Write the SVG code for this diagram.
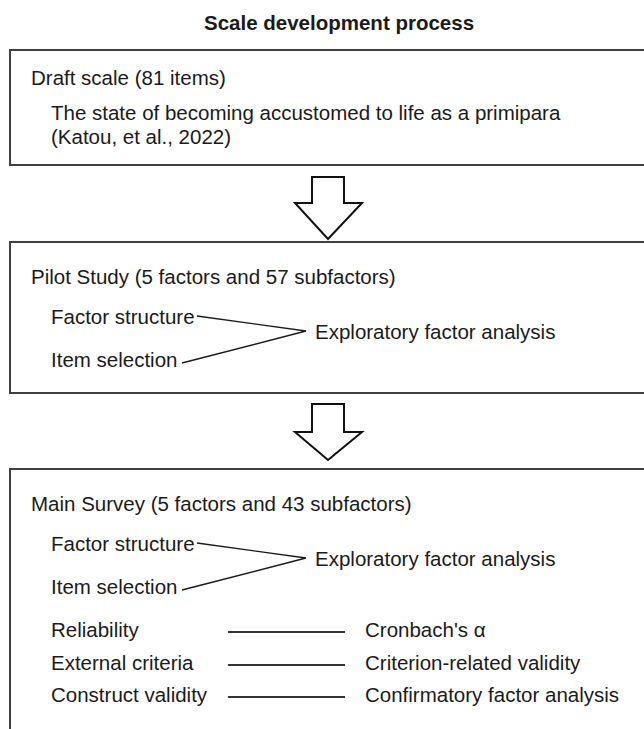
<svg xmlns="http://www.w3.org/2000/svg" width="644" height="729" viewBox="0 0 644 729">
<style>
  text { font-family: "Liberation Sans", Arial, sans-serif; font-size: 20.5px; fill: #1a1a1a; }
  .title { font-weight: bold; }
  .box { fill: #ffffff; stroke: #404040; stroke-width: 2; }
  .arrow { fill: #ffffff; stroke: #111111; stroke-width: 2; stroke-linejoin: miter; }
  .link { fill: none; stroke: #1a1a1a; stroke-width: 1.4; }
  .row { fill: none; stroke: #333333; stroke-width: 2; }
</style>
<rect x="0" y="0" width="644" height="729" fill="#ffffff"/>
<text class="title" x="204" y="30">Scale development process</text>

<g id="draft">
  <rect class="box" x="10" y="50" width="700" height="115"/>
  <text x="31" y="85">Draft scale (81 items)</text>
  <text x="51" y="120">The state of becoming accustomed to life as a primipara</text>
  <text x="51" y="144">(Katou, et al., 2022)</text>
</g>

<g id="pilot">
  <rect class="box" x="10" y="242" width="700" height="151"/>
  <text x="31" y="284">Pilot Study (5 factors and 57 subfactors)</text>
  <text x="51" y="324">Factor structure</text>
  <text x="51" y="367">Item selection</text>
  <text x="315" y="339">Exploratory factor analysis</text>
</g>

<g id="main">
  <rect class="box" x="10" y="469" width="700" height="340"/>
  <text x="31" y="511">Main Survey (5 factors and 43 subfactors)</text>
  <text x="51" y="551">Factor structure</text>
  <text x="51" y="594">Item selection</text>
  <text x="315" y="566">Exploratory factor analysis</text>
  <text x="51" y="637">Reliability</text>
  <text x="51" y="670">External criteria</text>
  <text x="51" y="702">Construct validity</text>
  <text x="365" y="637">Cronbach's α</text>
  <text x="365" y="670">Criterion-related validity</text>
  <text x="365" y="702">Confirmatory factor analysis</text>
</g>

<g id="connectors">
  <polygon class="arrow" points="312,177 344,177 344,203 362,203 328,239 295,203 312,203"/>
  <polygon class="arrow" points="312,404 344,404 344,432 362,432 328,460 295,432 312,432"/>
  <polyline class="link" points="197,316 306,331 182,363"/>
  <polyline class="link" points="197,543 306,558 182,590"/>
  <line class="row" x1="228" y1="632" x2="345" y2="632"/>
  <line class="row" x1="228" y1="665" x2="345" y2="665"/>
  <line class="row" x1="228" y1="697" x2="345" y2="697"/>
</g>
</svg>
